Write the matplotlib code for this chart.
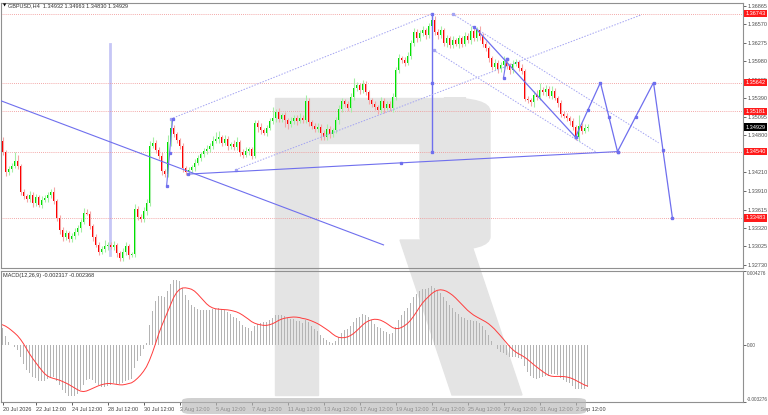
import numpy as np
import pandas as pd
import matplotlib
matplotlib.use("Agg")
import matplotlib.pyplot as plt
import matplotlib.transforms as mtransforms
from matplotlib.patches import FancyBboxPatch, Polygon, Rectangle

plt.rcParams["font.family"] = ["Liberation Sans", "DejaVu Sans"]

# GBPUSD H4 candles (bar 0 = first visible bar)
first_open = 1.3471
closes = [
    1.3453, 1.3421, 1.3426, 1.3431, 1.3439, 1.3431, 1.3390, 1.3383, 1.3378, 1.3385,
    1.3372, 1.3382, 1.3369, 1.3377, 1.3380, 1.3385, 1.3390, 1.3375, 1.3348, 1.3329,
    1.3318, 1.3324, 1.3314, 1.3319, 1.3326, 1.3332, 1.3342, 1.3356, 1.3355, 1.3335,
    1.3318, 1.3305, 1.3294, 1.3298, 1.3303, 1.3305, 1.3302, 1.3305, 1.3292, 1.3284,
    1.3294, 1.3303, 1.3289, 1.3290, 1.3362, 1.3350, 1.3346, 1.3359, 1.3372, 1.3463,
    1.3468, 1.3457, 1.3447, 1.3423, 1.3418, 1.3469, 1.3492, 1.3482, 1.3472, 1.3463,
    1.3428, 1.3421, 1.3425, 1.3429, 1.3436, 1.3444, 1.3450, 1.3455, 1.3458, 1.3463,
    1.3471, 1.3474, 1.3477, 1.3468, 1.3474, 1.3463, 1.3466, 1.3461, 1.3469, 1.3453,
    1.3449, 1.3455, 1.3458, 1.3447, 1.3500, 1.3493, 1.3488, 1.3484, 1.3492, 1.3503,
    1.3508, 1.3517, 1.3506, 1.3512, 1.3504, 1.3498, 1.3503, 1.3508, 1.3503, 1.3508,
    1.3504, 1.3535, 1.3501, 1.3495, 1.3490, 1.3493, 1.3484, 1.3477, 1.3490, 1.3482,
    1.3488, 1.3504, 1.3522, 1.3535, 1.3530, 1.3524, 1.3541, 1.3555, 1.3560, 1.3552,
    1.3562, 1.3549, 1.3536, 1.3530, 1.3525, 1.3520, 1.3535, 1.3524, 1.3530, 1.3524,
    1.3541, 1.3584, 1.3603, 1.3600, 1.3596, 1.3607, 1.3627, 1.3645, 1.3635, 1.3643,
    1.3648, 1.3640, 1.3655, 1.3664, 1.3645, 1.3640, 1.3648, 1.3627, 1.3635, 1.3624,
    1.3632, 1.3626, 1.3635, 1.3626, 1.3639, 1.3632, 1.3647, 1.3635, 1.3648, 1.3639,
    1.3626, 1.3619, 1.3603, 1.3589, 1.3596, 1.3586, 1.3592, 1.3599, 1.3591, 1.3584,
    1.3594, 1.3597, 1.3588, 1.3583, 1.3538, 1.3536, 1.3533, 1.3544, 1.3541, 1.3552,
    1.3549, 1.3554, 1.3543, 1.3551, 1.3540, 1.3532, 1.3514, 1.3511, 1.3508, 1.3503,
    1.3493, 1.3477, 1.3495, 1.3487, 1.3492, 1.34929,
]
upper_wick_pips = [
    6, 4, 5, 4, 15, 10, 3, 5, 4, 6, 5, 4, 3, 6, 4, 5, 4, 7, 3, 4,
    5, 4, 3, 5, 6, 4, 5, 8, 6, 4, 3, 5, 4, 6, 10, 5, 4, 6, 3, 4,
    6, 7, 3, 4, 9, 5, 4, 7, 6, 8, 10, 5, 4, 6, 3, 12, 14, 5, 4, 3,
    4, 3, 5, 4, 6, 5, 4, 5, 6, 4, 8, 12, 10, 4, 6, 5, 4, 6, 9, 4,
    5, 6, 4, 3, 5, 4, 6, 3, 4, 5, 18, 5, 6, 4, 5, 3, 6, 5, 4, 7,
    4, 9, 5, 3, 4, 6, 5, 4, 8, 5, 4, 5, 6, 5, 3, 4, 6, 16, 5, 4,
    6, 5, 4, 3, 5, 4, 6, 5, 4, 5, 6, 5, 7, 4, 5, 6, 5, 7, 4, 5,
    6, 4, 5, 10, 6, 4, 7, 3, 5, 4, 6, 4, 5, 3, 6, 4, 7, 4, 5, 6,
    4, 5, 3, 4, 6, 4, 5, 7, 4, 5, 6, 5, 4, 6, 3, 5, 4, 6, 8, 12,
    5, 6, 4, 8, 5, 3, 4, 5, 4, 3, 4, 3, 18, 5, 6, 5,
]
lower_wick_pips = [
    5, 6, 4, 5, 4, 5, 6, 4, 5, 4, 6, 5, 4, 5, 4, 6, 5, 4, 5, 7,
    6, 5, 4, 5, 4, 5, 6, 4, 3, 5, 6, 4, 5, 4, 5, 6, 4, 5, 6, 5,
    4, 5, 6, 4, 5, 6, 4, 5, 6, 5, 4, 6, 5, 7, 5, 4, 6, 5, 4, 5,
    6, 5, 4, 5, 6, 4, 5, 4, 5, 4, 5, 4, 6, 5, 4, 6, 5, 4, 5, 6,
    5, 4, 6, 5, 4, 8, 6, 4, 5, 4, 5, 6, 4, 5, 10, 8, 4, 5, 6, 4,
    5, 4, 6, 5, 4, 5, 12, 5, 4, 6, 5, 4, 6, 5, 4, 5, 6, 5, 4, 6,
    5, 4, 6, 5, 4, 6, 5, 8, 4, 5, 6, 5, 4, 5, 6, 4, 5, 4, 6, 5,
    4, 6, 5, 4, 5, 6, 4, 5, 6, 4, 5, 4, 6, 5, 4, 5, 6, 4, 5, 6,
    5, 4, 6, 5, 4, 6, 5, 4, 5, 6, 5, 4, 6, 5, 4, 5, 6, 8, 5, 4,
    5, 6, 4, 5, 4, 6, 5, 4, 5, 6, 5, 4, 6, 5, 4, 5,
]
# MACD main value just before the first visible bar (read from the sub-window)
macd_seed = 0.0012

# horizontal levels (red price labels)
levels = [1.36743, 1.35642, 1.35181, 1.34540, 1.33483]
last_price = 1.34929

price_ticks = [1.36865, 1.36570, 1.36275, 1.35980, 1.35685, 1.35390, 1.35095,
               1.34800, 1.34210, 1.33910, 1.33615, 1.33320, 1.33025, 1.32730]
macd_ticks = [0.004276, 0.0, -0.003276]
macd_tick_labels = ["0.004276", "0.00", "-0.003276"]

date_bars = [0, 11, 23, 35, 47, 59, 71, 83, 95, 107, 119, 131, 143, 155, 167, 179, 191]
date_labels = ["20 Jul 2026", "22 Jul 12:00", "24 Jul 12:00", "28 Jul 12:00", "30 Jul 12:00",
               "3 Aug 12:00", "5 Aug 12:00", "7 Aug 12:00", "11 Aug 12:00", "13 Aug 12:00",
               "17 Aug 12:00", "19 Aug 12:00", "21 Aug 12:00", "25 Aug 12:00", "27 Aug 12:00",
               "31 Aug 12:00", "2 Sep 12:00"]

# analyst drawings: (bar, price) anchor points
trend_down_long = [(-1, 1.3536), (127, 1.3305)]
vline_left = [(35.7, 1.3626), (35.7, 1.3289)]
vline_top = [(143.3, 1.36743), (143.3, 1.35642), (143.3, 1.34540)]
channel_up_upper = [(56.0, 1.3506), (143.3, 1.36743)]
channel_up_lower = [(77.7, 1.3425), (212.7, 1.3672)]
support_line = [(61.7, 1.3418), (132.7, 1.3436), (205.0, 1.34540)]
measure_line = [(54.7, 1.3399), (55.7, 1.3452), (56.7, 1.3506)]
channel_dn_upper = [(150.0, 1.3674), (218.7, 1.3468)]
channel_dn_lower = [(143.7, 1.3616), (198.3, 1.3452)]
wave_line = [(157.3, 1.3653), (191.0, 1.3477)]
wave_marks = [(157.3, 1.3653), (168.0, 1.3602), (191.0, 1.3477)]
short_seg = [(167.0, 1.3572), (168.0, 1.3602)]
forecast = [(191.0, 1.3477), (199.3, 1.35642), (205.0, 1.34540), (217.0, 1.35642), (223.3, 1.33483)]

W, H = 768, 415
fig = plt.figure(figsize=(W / 100, H / 100), dpi=100)
fig.patch.set_facecolor("white")


def fx(px):
    return px / W


def fy(py):
    return 1 - py / H


# watermark logo behind the panels
wm = "#e4e4e4"
fig.patches.append(Rectangle((fx(275), fy(395)), fx(43), (395 - 98) / H,
                             transform=fig.transFigure, color=wm, zorder=-1))
fig.patches.append(Rectangle((fx(318), fy(143)), fx(130), 45 / H,
                             transform=fig.transFigure, color=wm, zorder=-1))
fig.patches.append(FancyBboxPatch((fx(420), fy(250)), fx(70), (250 - 98) / H,
                                  boxstyle="round,pad=0,rounding_size=0.06",
                                  mutation_aspect=H / W,
                                  transform=fig.transFigure, color=wm, zorder=-1))
fig.patches.append(Polygon([(fx(400), fy(240)), (fx(470), fy(240)),
                            (fx(522), fy(395)), (fx(452), fy(395))],
                           closed=True, transform=fig.transFigure, color=wm, zorder=-1))

ax = fig.add_axes([fx(1), fy(268), fx(742), (268 - 3) / H])
axm = fig.add_axes([fx(1), fy(402), fx(742), (402 - 271) / H])
for a in (ax, axm):
    a.set_facecolor("none")
    for s in a.spines.values():
        s.set_color("#909090")
        s.set_linewidth(0.8)
    a.set_xlim(-0.5, 246.83)

n = len(closes)
x = np.arange(n)
c = np.array(closes)
o = np.array([first_open] + closes[:-1])
hi = np.maximum(o, c) + np.array(upper_wick_pips) * 0.0001
lo = np.minimum(o, c) - np.array(lower_wick_pips) * 0.0001
up = c >= o

ax.vlines(x[up], lo[up], hi[up], color="#a6eea6", lw=0.8, zorder=3)
ax.vlines(x[~up], lo[~up], hi[~up], color="#f4a6a6", lw=0.8, zorder=3)
ax.bar(x[up], c[up] - o[up], bottom=o[up], width=0.62, color="#00e000", lw=0, zorder=4)
ax.bar(x[~up], o[~up] - c[~up], bottom=c[~up], width=0.62, color="#ff0000", lw=0, zorder=4)

for lv in levels:
    ax.axhline(lv, color="#f08c8c", lw=0.6, ls=(0, (1, 1.5)), zorder=2)

fs = 4.0
ax.set_ylim(1.32681, 1.36913)
ax.yaxis.tick_right()
ax.set_yticks(price_ticks)
ax.set_yticklabels([f"{t:.5f}" for t in price_ticks])
ax.tick_params(axis="y", labelsize=fs, length=2, pad=1.2, colors="#505050", width=0.6)
ax.set_xticks([])

blend = mtransforms.blended_transform_factory(ax.transAxes, ax.transData)
for lv in levels:
    ax.text(1.0032, lv, f"{lv:.5f}", transform=blend, fontsize=fs, color="white",
            va="center", ha="left", clip_on=False, zorder=6,
            bbox=dict(fc="#ff1a1a", ec="none", pad=0.9))
ax.text(1.0032, last_price, f"{last_price:.5f}", transform=blend, fontsize=fs, color="white",
        va="center", ha="left", clip_on=False, zorder=6,
        bbox=dict(fc="black", ec="none", pad=0.9))

# drawings
solid = "#6f6fee"
pale = "#a3a3f2"


def pts(p):
    return [q[0] for q in p], [q[1] for q in p]


xs, ys = pts(trend_down_long)
ax.plot(xs, ys, color=solid, lw=0.8, zorder=5)
xs, ys = pts(vline_left)
ax.plot(xs, ys, color="#c6c6f6", lw=2.0, zorder=1)
xs, ys = pts(vline_top)
ax.plot(xs, ys, color=solid, lw=1.0, marker="s", ms=1.6, zorder=5)
for p in (channel_up_upper, channel_up_lower, channel_dn_upper, channel_dn_lower):
    xs, ys = pts(p)
    ax.plot(xs, ys, color=pale, lw=0.7, ls=(0, (1.5, 1.5)), zorder=5)
    ax.plot(xs[:1], ys[:1], color=pale, marker="s", ms=1.4, lw=0, zorder=5)
xs, ys = pts(support_line)
ax.plot(xs, ys, color=solid, lw=0.8, marker="s", ms=1.4, zorder=5)
xs, ys = pts(measure_line)
ax.plot(xs, ys, color=solid, lw=0.8, marker="s", ms=1.4, zorder=5)
xs, ys = pts(wave_line)
ax.plot(xs, ys, color=solid, lw=0.9, zorder=5)
xs, ys = pts(wave_marks)
ax.plot(xs, ys, color=solid, lw=0, marker="s", ms=1.4, zorder=5)
xs, ys = pts(short_seg)
ax.plot(xs, ys, color=solid, lw=0.8, marker="s", ms=1.4, zorder=5)
xs, ys = pts(forecast)
ax.plot(xs, ys, color=solid, lw=0.9, marker="s", ms=1.6, zorder=5)
mx = [(xs[i] + xs[i + 1]) / 2 for i in range(len(xs) - 1)]
my = [(ys[i] + ys[i + 1]) / 2 for i in range(len(ys) - 1)]
ax.plot(mx, my, color=solid, lw=0, marker="s", ms=1.4, zorder=5)


# MACD(12,26,9): EMA 12/26 of closes, SMA 9 signal (MT4 style)
def ema(vals, span, start):
    k = 2.0 / (span + 1)
    out, e = [], start
    for v in vals:
        e = e + k * (v - e)
        out.append(e)
    return np.array(out)


macd = ema(closes, 12, first_open) - ema(closes, 26, first_open - macd_seed)
signal = pd.Series([macd_seed] * 8 + list(macd)).rolling(9).mean().values[8:]
axm.bar(x, macd, width=0.35, color="#b4b4b4", lw=0, zorder=3)
axm.plot(x, signal, color="#ff3c3c", lw=0.7, zorder=4)
axm.set_ylim(-0.003276, 0.004276)
axm.yaxis.tick_right()
axm.set_yticks(macd_ticks)
axm.set_yticklabels(macd_tick_labels)
ylabs = axm.get_yticklabels()
ylabs[0].set_va("top")
ylabs[2].set_va("bottom")
axm.tick_params(axis="y", labelsize=3.4, length=2, pad=1.0, colors="#505050", width=0.6)
axm.set_xticks(date_bars)
axm.set_xticklabels(date_labels, ha="left")
axm.tick_params(axis="x", labelsize=fs, length=2, pad=1.5, colors="#404040", width=0.6)

fig.text(fx(3), fy(5.5), "\u25bc", fontsize=3.0, color="black", va="center",
         family="DejaVu Sans")
fig.text(fx(8), fy(5.5), "GBPUSD,H4  1.34932 1.34963 1.34830 1.34929", fontsize=fs,
         color="#303030", va="center")
fig.text(fx(3), fy(275), "MACD(12,26,9) -0.002317 -0.002368", fontsize=fs,
         color="#303030", va="center")

# translucent banner along the bottom
fig.patches.append(FancyBboxPatch((fx(182), fy(414)), fx(404), 16 / H,
                                  boxstyle="round,pad=0,rounding_size=0.012",
                                  mutation_aspect=H / W,
                                  transform=fig.transFigure, fc="#b8b8b8", ec="none",
                                  alpha=0.65, zorder=10))

fig.savefig("out.png", dpi=100)
